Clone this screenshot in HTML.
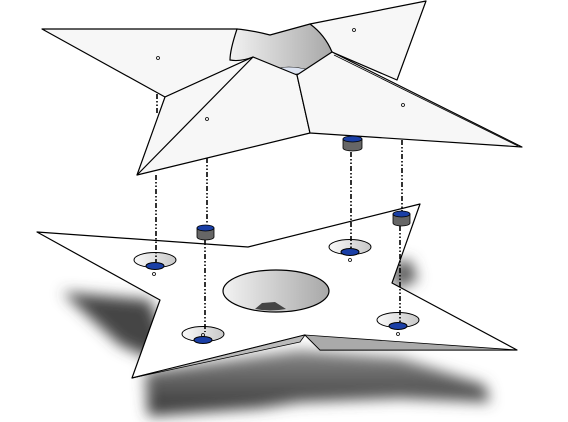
<!DOCTYPE html>
<html><head><meta charset="utf-8"><style>html,body{margin:0;padding:0;background:#fff}svg{display:block}</style></head>
<body>
<svg width="568" height="422" viewBox="0 0 568 422" xmlns="http://www.w3.org/2000/svg">
<defs>
<filter id="blur" x="-20%" y="-20%" width="140%" height="140%"><feGaussianBlur stdDeviation="7"/></filter>
<linearGradient id="sh" x1="0" y1="0" x2="0" y2="1"><stop offset="0" stop-color="#888"/><stop offset="1" stop-color="#333"/></linearGradient>
<linearGradient id="hole" x1="0" x2="1"><stop offset="0" stop-color="#f2f2f2"/><stop offset="1" stop-color="#a8a8a8"/></linearGradient>
<linearGradient id="cs" x1="0" x2="1"><stop offset="0" stop-color="#fafafa"/><stop offset="1" stop-color="#c8c8c8"/></linearGradient>
</defs>
<!-- shadows -->
<g filter="url(#blur)">
<path d="M62,292 L150,300 L165,340 L150,358 L120,345 Z" fill="#444"/>
<path d="M145,372 L300,350 L400,358 L485,385 L490,402 L400,398 L300,402 L260,408 L148,416 Z" fill="url(#sh)"/>
<path d="M395,262 L410,260 L418,280 L392,290 Z" fill="#555"/>
</g>
<!-- bottom plate -->
<g stroke="#000" stroke-width="1.2" stroke-linejoin="round">
<path d="M37,232 L248,247 L420,204 L392,283 L517,350 L320,350 L305,335 L132,378 L160,300 Z" fill="#fff"/>
<path d="M305,335 L320,350 L517,350 Z" fill="#aaa" stroke-width="0.8"/>
<path d="M305,335 L132,378 L300,342 Z" fill="#bbb" stroke-width="0.8"/>
</g>
<!-- big hole -->
<g>
<ellipse cx="276" cy="291" rx="53" ry="21" fill="url(#hole)" stroke="#000" stroke-width="1.2"/>
<path d="M255,309 L262,303 L275,302 L286,309 Q270,312 255,309 Z" fill="#444"/>
</g>
<!-- countersinks -->
<g stroke="#000" stroke-width="1">
<ellipse cx="155" cy="260" rx="21" ry="7.5" fill="url(#cs)"/><ellipse cx="155" cy="266" rx="9" ry="3.5" fill="#1a3fa6"/>
<ellipse cx="203" cy="334" rx="21" ry="7.5" fill="url(#cs)"/><ellipse cx="203" cy="340" rx="9" ry="3.5" fill="#1a3fa6"/>
<ellipse cx="350" cy="247" rx="21" ry="7.5" fill="url(#cs)"/><ellipse cx="350" cy="252" rx="9" ry="3.5" fill="#1a3fa6"/>
<ellipse cx="398" cy="320" rx="21" ry="7.5" fill="url(#cs)"/><ellipse cx="398" cy="326" rx="9" ry="3.5" fill="#1a3fa6"/>
</g>
<!-- top piece -->
<g stroke="#000" stroke-width="1.2" stroke-linejoin="round" fill="#f7f7f7">
<path d="M310,24 L426,1 L397,80 L332,52 Z"/>
<path d="M42,29 L237,29 L230,60 L253,57 L165,97 Z"/>
<path d="M237,29 Q230,50 230,60 Q240,62 253,57 Q275,75 297,75 Q325,70 332,52 Q325,35 310,24 L270,35 Q250,30 237,29 Z" fill="url(#hole)"/>
<path d="M275,70 Q285,64 310,70 Q300,76 280,74 Z" fill="#dde4f2" stroke-width="0.6"/>
<path d="M253,57 L165,97 L137,175 L310,133 L297,75 Z"/>
<path d="M253,57 L137,175" fill="none"/>
<path d="M332,52 L522,147 L310,133 L297,75 Z"/>
<path d="M334,55 L518,146" fill="none" stroke-width="0.8"/>
</g>
<!-- dashed connector lines -->
<g stroke="#000" stroke-width="1.6" stroke-dasharray="5,2,1.5,2,1.5,2" fill="none">
<path d="M157,94 V113 M156,175 V262"/>
<path d="M207,158 V224 M205,240 V332"/>
<path d="M351,152 V248"/>
<path d="M402,140 V211 M400,226 V322"/>
</g>
<!-- pucks -->
<g stroke="#000" stroke-width="0.8">
<path d="M343,139 V148 A9.5,3 0 0 0 362,148 V139 Z" fill="#666"/><ellipse cx="352.5" cy="139" rx="9.5" ry="3" fill="#1a3fa6"/>
<path d="M197,228 V237 A8.5,3 0 0 0 214,237 V228 Z" fill="#666"/><ellipse cx="205.5" cy="228" rx="8.5" ry="3" fill="#1a3fa6"/>
<path d="M393,214 V223 A8.5,3 0 0 0 410,223 V214 Z" fill="#666"/><ellipse cx="401.5" cy="214" rx="8.5" ry="3" fill="#1a3fa6"/>
</g>
<!-- small markers -->
<g fill="none" stroke="#000" stroke-width="0.8">
<circle cx="158" cy="58" r="1.5"/><circle cx="207" cy="119" r="1.5"/><circle cx="354" cy="30" r="1.5"/><circle cx="403" cy="105" r="1.5"/>
<circle cx="154" cy="274" r="1.5"/><circle cx="203" cy="335" r="1.5"/><circle cx="350" cy="260" r="1.5"/><circle cx="398" cy="334" r="1.5"/>
</g>
</svg>
</body></html>
